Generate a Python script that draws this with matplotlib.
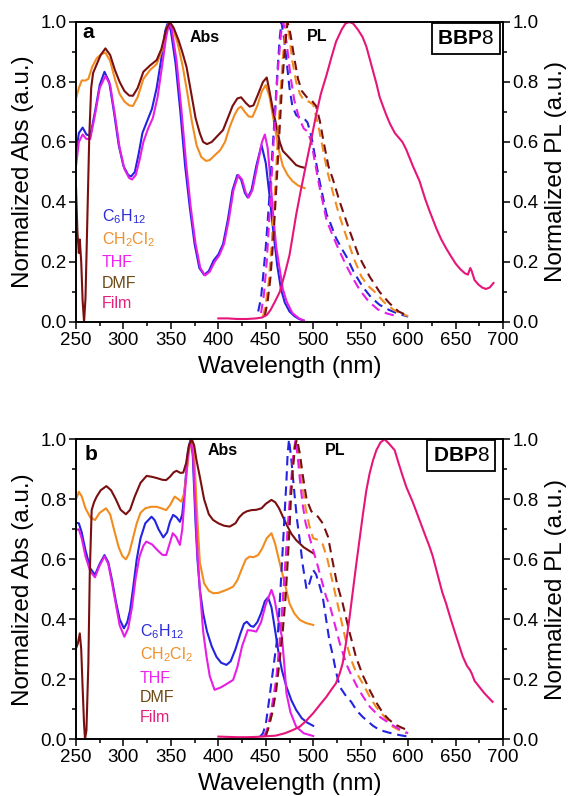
import matplotlib
matplotlib.use('Agg')
import matplotlib.pyplot as plt
from matplotlib.ticker import MultipleLocator

plt.rcParams['font.family'] = 'Liberation Sans'
plt.rcParams['mathtext.fontset'] = 'custom'
plt.rcParams['mathtext.rm'] = 'Liberation Sans'
plt.rcParams['mathtext.bf'] = 'Liberation Sans:bold'
plt.rcParams['mathtext.default'] = 'regular'

# ---- panel a (BBP8): absorption (solid) ----
abs_a_c6h12 = [
    (250, 0.56), (253, 0.63), (257, 0.648), (261, 0.625), (265, 0.62), (270, 0.70), (275, 0.79), (280, 0.834),
    (285, 0.80), (290, 0.70), (295, 0.59), (300, 0.52), (305, 0.49), (308, 0.485), (312, 0.50), (316, 0.56),
    (320, 0.63), (325, 0.67), (330, 0.71), (335, 0.78), (340, 0.88), (344, 0.97), (347, 1.0), (350, 0.97),
    (355, 0.86), (360, 0.70), (365, 0.52), (370, 0.38), (375, 0.26), (380, 0.18), (385, 0.157), (390, 0.17),
    (395, 0.205), (400, 0.225), (405, 0.26), (410, 0.34), (415, 0.44), (420, 0.49), (424, 0.475), (428, 0.43),
    (431, 0.415), (435, 0.44), (440, 0.52), (445.5, 0.59), (450, 0.53), (454, 0.42), (458, 0.30), (462, 0.19),
    (466, 0.11), (470, 0.065), (475, 0.035), (480, 0.02), (485, 0.01), (490, 0.005)]
abs_a_ch2cl2 = [
    (250, 0.745), (253, 0.78), (256, 0.805), (260, 0.805), (263, 0.81), (267, 0.85), (272, 0.88), (277, 0.893),
    (281, 0.898), (286, 0.87), (291, 0.81), (296, 0.76), (301, 0.735), (306, 0.722), (310, 0.72), (315, 0.75),
    (321, 0.81), (328, 0.84), (335, 0.86), (340, 0.90), (345, 0.97), (348, 1.0), (352, 0.98), (357, 0.93),
    (362, 0.86), (367, 0.77), (372, 0.67), (377, 0.59), (382, 0.55), (387, 0.537), (391, 0.54), (396, 0.555),
    (402, 0.573), (407, 0.60), (412, 0.65), (417, 0.69), (421, 0.712), (424, 0.718), (428, 0.70), (432, 0.685),
    (436, 0.684), (441, 0.72), (446, 0.77), (450, 0.79), (454, 0.75), (459, 0.66), (464, 0.57), (468, 0.52),
    (473, 0.49), (478, 0.47), (484, 0.455), (491, 0.446)]
abs_a_thf = [
    (250, 0.52), (253, 0.60), (257, 0.625), (261, 0.61), (265, 0.61), (270, 0.69), (275, 0.78), (281, 0.82),
    (286, 0.79), (291, 0.69), (296, 0.58), (301, 0.51), (306, 0.48), (309, 0.475), (313, 0.49), (317, 0.54),
    (321, 0.60), (326, 0.645), (331, 0.68), (336, 0.75), (341, 0.86), (345, 0.95), (348.5, 1.0), (351, 0.975),
    (356, 0.87), (361, 0.71), (366, 0.53), (371, 0.38), (376, 0.26), (381, 0.18), (386, 0.155), (391, 0.168),
    (396, 0.20), (401, 0.222), (406, 0.26), (411, 0.34), (416, 0.44), (421, 0.49), (425, 0.475), (429, 0.43),
    (432, 0.415), (436, 0.44), (441, 0.52), (446, 0.60), (449, 0.625), (452, 0.58), (455, 0.47), (458, 0.35),
    (461, 0.25), (465, 0.17), (468, 0.11), (472, 0.068), (478, 0.03), (485, 0.012), (490, 0.005)]
abs_a_dmf = [
    (250, 0.45), (251.5, 0.30), (253, 0.23), (254, 0.275), (255.5, 0.20), (257, 0.07), (258.5, 0.0), (260, 0.08),
    (262, 0.35), (264, 0.62), (266, 0.78), (268, 0.83), (272, 0.86), (276, 0.89), (281, 0.912), (286, 0.89),
    (291, 0.84), (296, 0.80), (301, 0.77), (306, 0.755), (310, 0.754), (315, 0.78), (321, 0.834), (328, 0.855),
    (335, 0.873), (340, 0.91), (345, 0.975), (349, 1.0), (353, 0.98), (358, 0.94), (362, 0.90), (366.5, 0.85),
    (371, 0.77), (376, 0.68), (380.5, 0.629), (384, 0.60), (388, 0.593), (393, 0.60), (399, 0.62), (405, 0.64),
    (410, 0.68), (415, 0.72), (420, 0.745), (424, 0.749), (429, 0.73), (433, 0.718), (437, 0.722), (442, 0.76),
    (447, 0.80), (451, 0.815), (454, 0.768), (458, 0.70), (461, 0.657), (464.7, 0.60), (468, 0.57), (472, 0.557),
    (477, 0.54), (482, 0.523), (486, 0.518), (491, 0.514)]

# ---- panel a: photoluminescence (dashed, film solid) ----
pl_a_c6h12 = [
    (442, 0.035), (445, 0.08), (447, 0.146), (450, 0.25), (452.5, 0.357), (456, 0.52), (459.5, 0.69), (462, 0.82),
    (464.5, 0.94), (466.5, 1.0), (469, 0.95), (472, 0.867), (475, 0.78), (478, 0.72), (482, 0.69), (486, 0.68),
    (490, 0.68), (494, 0.665), (498, 0.62), (502, 0.55), (506, 0.48), (510, 0.42), (514, 0.36), (518, 0.33),
    (524, 0.28), (530, 0.245), (535, 0.218), (543, 0.165), (552, 0.118), (561, 0.082), (570, 0.057), (580, 0.04),
    (590, 0.027), (600, 0.018)]
pl_a_ch2cl2 = [
    (447, 0.018), (450, 0.06), (453, 0.13), (456, 0.25), (459, 0.40), (462, 0.57), (465, 0.74), (468, 0.88),
    (470.5, 0.97), (472, 1.0), (474.5, 0.96), (478, 0.87), (482, 0.80), (486, 0.76), (490, 0.74), (495, 0.735),
    (500, 0.725), (505, 0.66), (510, 0.58), (515, 0.50), (520, 0.44), (527, 0.36), (535, 0.284), (543, 0.21),
    (551, 0.15), (558, 0.12), (565, 0.10), (575, 0.065), (585, 0.04), (593, 0.027), (600, 0.02)]
pl_a_thf = [
    (445, 0.03), (448, 0.09), (451, 0.20), (454, 0.36), (457, 0.53), (460, 0.70), (463, 0.85), (466, 0.96),
    (468.5, 1.0), (472, 0.93), (476, 0.82), (480, 0.74), (485, 0.68), (490, 0.645), (494, 0.635), (498, 0.60),
    (502, 0.53), (506, 0.46), (510, 0.40), (514, 0.34), (519, 0.30), (525, 0.255), (533, 0.20), (541, 0.15),
    (549, 0.107), (558, 0.07), (568, 0.042), (578, 0.028), (590, 0.018)]
pl_a_dmf = [
    (449, 0.02), (452, 0.07), (455, 0.15), (458, 0.28), (461, 0.44), (464, 0.61), (467, 0.78), (470, 0.91),
    (473, 1.0), (476, 0.96), (480, 0.88), (484, 0.81), (488, 0.77), (493, 0.75), (498, 0.74), (503, 0.72),
    (507, 0.67), (511, 0.60), (516, 0.52), (521, 0.473), (528, 0.40), (538, 0.307), (548, 0.22), (559.5, 0.151),
    (570, 0.10), (580.5, 0.062), (590, 0.035), (600, 0.02)]
pl_a_film = [
    (400, 0.012), (410, 0.012), (420, 0.01), (430, 0.01), (440, 0.012), (446, 0.015), (451, 0.023), (455, 0.04),
    (460, 0.07), (464.7, 0.10), (470, 0.16), (475, 0.223), (478, 0.28), (482, 0.357), (487, 0.44), (493, 0.534),
    (498, 0.61), (503, 0.69), (508, 0.76), (514, 0.823), (519, 0.88), (524, 0.934), (530, 0.975), (534, 0.995),
    (538, 1.0), (542, 0.995), (547, 0.975), (552, 0.95), (556, 0.918), (561, 0.86), (566.5, 0.796), (570, 0.75),
    (574, 0.715), (577, 0.69), (581, 0.66), (586, 0.63), (590, 0.615), (594, 0.60), (598, 0.575), (605, 0.52),
    (612, 0.47), (618, 0.41), (622.6, 0.37), (630, 0.31), (635, 0.275), (640, 0.246), (645, 0.22), (650, 0.195),
    (655, 0.176), (660, 0.162), (663, 0.158), (665.5, 0.18), (667, 0.17), (670, 0.14), (674, 0.125), (678, 0.115),
    (682, 0.11), (686, 0.115), (690, 0.13)]

# ---- panel b (DBP8): absorption ----
abs_b_c6h12 = [
    (250, 0.722), (253, 0.72), (256, 0.69), (260, 0.63), (265, 0.57), (270, 0.548), (275, 0.585), (280, 0.614),
    (284, 0.59), (288, 0.53), (292, 0.46), (296, 0.40), (300.5, 0.37), (304, 0.39), (307, 0.43), (310, 0.50),
    (314, 0.60), (318, 0.67), (323, 0.72), (329.6, 0.742), (333, 0.73), (337, 0.70), (342, 0.673), (346, 0.69),
    (349, 0.725), (352.4, 0.748), (356, 0.74), (359.5, 0.725), (362, 0.75), (365, 0.85), (368, 0.96), (370.7, 1.0),
    (373, 0.95), (376, 0.72), (378, 0.60), (380.5, 0.50), (384, 0.42), (388, 0.36), (393, 0.31), (398, 0.275),
    (403, 0.255), (408.6, 0.248), (413, 0.26), (418, 0.30), (423, 0.35), (427, 0.385), (430, 0.392), (434, 0.378),
    (437, 0.375), (441, 0.39), (445, 0.42), (449, 0.46), (452.4, 0.473), (456, 0.44), (460, 0.36), (463, 0.298),
    (467, 0.23), (471.8, 0.175), (477, 0.13), (482, 0.098), (488, 0.07), (494, 0.055), (500, 0.045)]
abs_b_ch2cl2 = [
    (250, 0.80), (253, 0.825), (256, 0.81), (260, 0.77), (265, 0.74), (270, 0.731), (275, 0.755), (281.6, 0.77),
    (286, 0.75), (290, 0.70), (295, 0.64), (299, 0.61), (302.6, 0.60), (306, 0.62), (310, 0.67), (314, 0.72),
    (318, 0.755), (323, 0.77), (329, 0.775), (335, 0.775), (340, 0.77), (345, 0.764), (349, 0.78), (354, 0.809),
    (358, 0.80), (361, 0.792), (364, 0.82), (367, 0.90), (370, 0.98), (372, 1.0), (374.5, 0.96), (376.5, 0.82),
    (378.5, 0.70), (380.5, 0.59), (385, 0.52), (390, 0.495), (394.5, 0.487), (400, 0.488), (406, 0.495),
    (410, 0.50), (415.6, 0.509), (420, 0.53), (425, 0.57), (429, 0.60), (433, 0.609), (437, 0.607), (441.9, 0.614),
    (446, 0.635), (451, 0.67), (456, 0.687), (460, 0.65), (464.7, 0.587), (470, 0.52), (475, 0.453), (480, 0.42),
    (485.8, 0.398), (492, 0.388), (500, 0.381)]
abs_b_thf = [
    (250, 0.698), (253, 0.70), (256, 0.67), (260, 0.61), (265, 0.56), (270, 0.54), (275, 0.58), (280, 0.61),
    (284, 0.585), (288, 0.52), (292, 0.45), (296, 0.38), (301, 0.342), (305, 0.37), (309, 0.44), (313, 0.54),
    (317, 0.61), (321, 0.645), (324, 0.659), (330, 0.65), (336, 0.63), (341, 0.615), (345, 0.614), (348, 0.645),
    (352, 0.687), (355.5, 0.675), (359.5, 0.648), (362, 0.70), (365, 0.83), (368, 0.95), (371, 1.0), (373.5, 0.94),
    (376, 0.76), (378, 0.62), (380.5, 0.50), (384, 0.36), (387.6, 0.275), (391, 0.21), (396, 0.165), (402, 0.172),
    (408, 0.183), (415.6, 0.198), (420, 0.24), (425, 0.31), (431, 0.364), (436, 0.362), (440, 0.359), (445, 0.39),
    (450, 0.45), (456, 0.498), (459, 0.47), (463, 0.40), (467, 0.342), (469.5, 0.25), (471.8, 0.153), (476, 0.09),
    (482, 0.042), (490, 0.02), (500, 0.011)]
abs_b_dmf = [
    (250, 0.303), (252, 0.32), (254, 0.353), (255.5, 0.30), (257, 0.17), (258.5, 0.05), (259.5, 0.0), (261, 0.03),
    (263, 0.25), (264.5, 0.55), (266.5, 0.764), (269, 0.79), (271.8, 0.809), (276, 0.83), (282, 0.844), (287, 0.83),
    (292, 0.80), (297, 0.765), (302.6, 0.75), (307, 0.765), (312, 0.81), (318, 0.855), (324.4, 0.878), (330, 0.875),
    (336, 0.87), (341, 0.865), (345, 0.864), (349, 0.875), (353, 0.89), (356, 0.895), (360, 0.888), (363, 0.889),
    (366, 0.92), (369, 0.98), (372, 1.0), (374.5, 0.98), (377, 0.93), (380.5, 0.875), (385, 0.80), (390, 0.75),
    (394.5, 0.731), (400, 0.72), (406, 0.712), (412, 0.709), (418, 0.72), (422, 0.74), (426, 0.753), (430, 0.76),
    (435, 0.764), (440, 0.765), (445.5, 0.77), (450, 0.785), (456, 0.798), (460, 0.79), (464, 0.77), (468, 0.742),
    (472, 0.715), (477, 0.685), (482, 0.664), (490, 0.64), (500, 0.62)]

# ---- panel b: photoluminescence ----
pl_b_c6h12 = [
    (444, 0.009), (447, 0.02), (450, 0.05), (454, 0.142), (458, 0.24), (461, 0.31), (463, 0.364), (465.5, 0.50),
    (468, 0.642), (470, 0.76), (471.8, 0.864), (473, 0.95), (474.5, 1.0), (477, 0.93), (480.5, 0.809), (483, 0.73),
    (485.8, 0.664), (489, 0.58), (493, 0.50), (496, 0.52), (500, 0.564), (503, 0.55), (506, 0.52), (510, 0.475),
    (513.6, 0.40), (517, 0.33), (521, 0.275), (524, 0.225), (528, 0.175), (535, 0.142), (540, 0.125), (546, 0.095),
    (552, 0.075), (556, 0.064), (563, 0.045), (570, 0.031), (580, 0.022), (591, 0.014), (600, 0.009)]
pl_b_ch2cl2 = [
    (449, 0.01), (452, 0.03), (456, 0.08), (459, 0.14), (462, 0.22), (465, 0.32), (468, 0.44), (471, 0.58),
    (474, 0.72), (477, 0.85), (480, 0.96), (482, 1.0), (485, 0.94), (488, 0.86), (492, 0.77), (496, 0.71),
    (500, 0.67), (505, 0.665), (510, 0.65), (515, 0.60), (520, 0.53), (525, 0.46), (530, 0.39), (535, 0.32),
    (540, 0.265), (545, 0.225), (552, 0.187), (559, 0.145), (566, 0.109), (575, 0.075), (584, 0.042), (592, 0.028),
    (598, 0.02)]
pl_b_thf = [
    (448, 0.01), (451, 0.03), (455, 0.08), (458, 0.14), (461, 0.20), (464, 0.30), (467, 0.42), (470, 0.56),
    (473, 0.70), (476, 0.83), (479, 0.95), (481.5, 1.0), (484, 0.93), (486, 0.864), (489, 0.78), (492, 0.72),
    (496, 0.675), (500, 0.63), (503, 0.598), (508, 0.54), (513.6, 0.475), (518, 0.44), (523, 0.38), (528, 0.32),
    (535, 0.25), (540, 0.215), (545.5, 0.18), (552, 0.145), (559.5, 0.109), (570, 0.075), (580.5, 0.053),
    (590, 0.035), (600, 0.02)]
pl_b_dmf = [
    (450, 0.01), (453, 0.04), (457, 0.09), (461, 0.164), (464.5, 0.26), (468, 0.364), (471, 0.48), (473, 0.587),
    (475, 0.70), (476.6, 0.809), (478.5, 0.90), (481, 0.98), (483, 1.0), (486, 0.95), (489, 0.88), (493, 0.80),
    (498, 0.76), (505, 0.742), (510, 0.72), (515.6, 0.675), (520, 0.60), (525, 0.52), (531, 0.453), (538, 0.36),
    (545, 0.275), (552, 0.215), (559.5, 0.164), (566, 0.125), (573.5, 0.087), (580, 0.065), (587, 0.048),
    (594.5, 0.037), (600, 0.03)]
pl_b_film = [
    (400, 0.009), (410, 0.008), (420, 0.007), (430, 0.007), (440, 0.008), (450, 0.01), (460, 0.012), (470, 0.02),
    (478, 0.03), (485.8, 0.042), (492, 0.06), (500, 0.087), (507, 0.115), (514, 0.142), (519, 0.165), (524, 0.187),
    (528, 0.22), (531, 0.253), (535, 0.33), (538.4, 0.409), (542, 0.50), (545.5, 0.587), (549, 0.67), (552.5, 0.753),
    (556, 0.83), (559.5, 0.887), (563, 0.93), (566.6, 0.964), (571, 0.99), (575.3, 1.0), (580, 0.985), (585.8, 0.964),
    (590, 0.92), (594, 0.88), (598, 0.842), (605, 0.79), (612, 0.731), (618, 0.68), (622.6, 0.642), (626, 0.61),
    (631, 0.55), (636, 0.49), (640, 0.453), (645, 0.40), (650, 0.35), (657.7, 0.275), (662, 0.245), (665, 0.232),
    (667, 0.22), (670, 0.195), (675, 0.175), (680, 0.155), (685, 0.138), (689, 0.125)]

solvents = [r'C$_6$H$_{12}$', r'CH$_2$Cl$_2$', 'THF', 'DMF', 'Film']
line_colors = ['#2323e0', '#f28c1e', '#e61ee6', '#7a0f0f', '#e6157a']
text_colors = ['#2b2bd9', '#f0902a', '#ee22ee', '#6b4a16', '#e3207c']

fig = plt.figure(figsize=(5.74, 7.96), dpi=100)
W, H = 574, 796


def panel(bottom_px, abs_list, pl_list, film, letter, name, letter_xy, abs_xy, pl_xy, box_xy, legend_x, legend_y):
    ax = fig.add_axes([76 / W, (H - bottom_px) / H, 427 / W, 300 / H])
    ax2 = ax.twinx()
    for data, c in zip(abs_list, line_colors):
        x, y = zip(*data)
        ax.plot(x, y, color=c, lw=1.5)
    for data, c in zip(pl_list, line_colors):
        x, y = zip(*data)
        ax2.plot(x, y, color=c, lw=1.5, linestyle=(0, (4.5, 2.8)))
    x, y = zip(*film)
    ax2.plot(x, y, color=line_colors[4], lw=1.5)

    for a in (ax, ax2):
        a.set_xlim(250, 700)
        a.set_ylim(0, 1.0)
        a.yaxis.set_major_locator(MultipleLocator(0.2))
        a.yaxis.set_minor_locator(MultipleLocator(0.1))
        for s in a.spines.values():
            s.set_linewidth(1.2)
    ax.xaxis.set_major_locator(MultipleLocator(50))
    ax.xaxis.set_minor_locator(MultipleLocator(25))
    ax.tick_params(which='both', direction='out', width=1.1, labelsize=13.5, pad=2,
                   top=False, right=False)
    ax.tick_params(which='major', length=5)
    ax.tick_params(which='minor', length=3)
    ax2.tick_params(which='both', direction='out', width=1.1, labelsize=13.5, pad=2)
    ax2.tick_params(which='major', length=5)
    ax2.tick_params(which='minor', length=3)

    ax.set_xlabel('Wavelength (nm)', fontsize=17.5)
    ax.xaxis.set_label_coords(0.5, -0.112)
    ax.set_ylabel('Normalized Abs (a.u.)', fontsize=17.5)
    ax.yaxis.set_label_coords(-0.098, 0.5)
    ax2.set_ylabel('Normalized PL (a.u.)', fontsize=17.5)
    ax2.yaxis.set_label_coords(1.098, 0.5)

    ax.text(letter_xy[0], letter_xy[1], letter, transform=ax.transAxes, fontsize=15,
            fontweight='bold', va='baseline')
    ax.text(abs_xy[0], abs_xy[1], 'Abs', transform=ax.transAxes, fontsize=11.5,
            fontweight='bold', va='baseline')
    ax.text(pl_xy[0], pl_xy[1], 'PL', transform=ax.transAxes, fontsize=11.5,
            fontweight='bold', va='baseline')
    ax2.text(box_xy[0], box_xy[1], r'$\mathbf{' + name + '}$8', transform=ax.transAxes,
             fontsize=15, ha='center', va='center', zorder=5,
             bbox=dict(boxstyle='square,pad=0.28', fc='white', ec='black', lw=1.3))
    for lab, c, ly in zip(solvents, text_colors, legend_y):
        ax.text(legend_x, ly, lab, transform=ax.transAxes, fontsize=11.5, color=c,
                va='center', ha='left')
    return ax, ax2


panel(322, [abs_a_c6h12, abs_a_ch2cl2, abs_a_thf, abs_a_dmf],
      [pl_a_c6h12, pl_a_ch2cl2, pl_a_thf, pl_a_dmf], pl_a_film,
      'a', 'BBP', (0.016, 0.947), (0.267, 0.933), (0.541, 0.937), (0.913, 0.945),
      0.061, [0.35, 0.273, 0.197, 0.13, 0.063])

panel(739.3, [abs_b_c6h12, abs_b_ch2cl2, abs_b_thf, abs_b_dmf],
      [pl_b_c6h12, pl_b_ch2cl2, pl_b_thf, pl_b_dmf], pl_b_film,
      'b', 'DBP', (0.021, 0.931), (0.309, 0.948), (0.583, 0.948), (0.902, 0.946),
      0.15, [0.358, 0.281, 0.204, 0.138, 0.071])

fig.savefig('out.png', dpi=100)
